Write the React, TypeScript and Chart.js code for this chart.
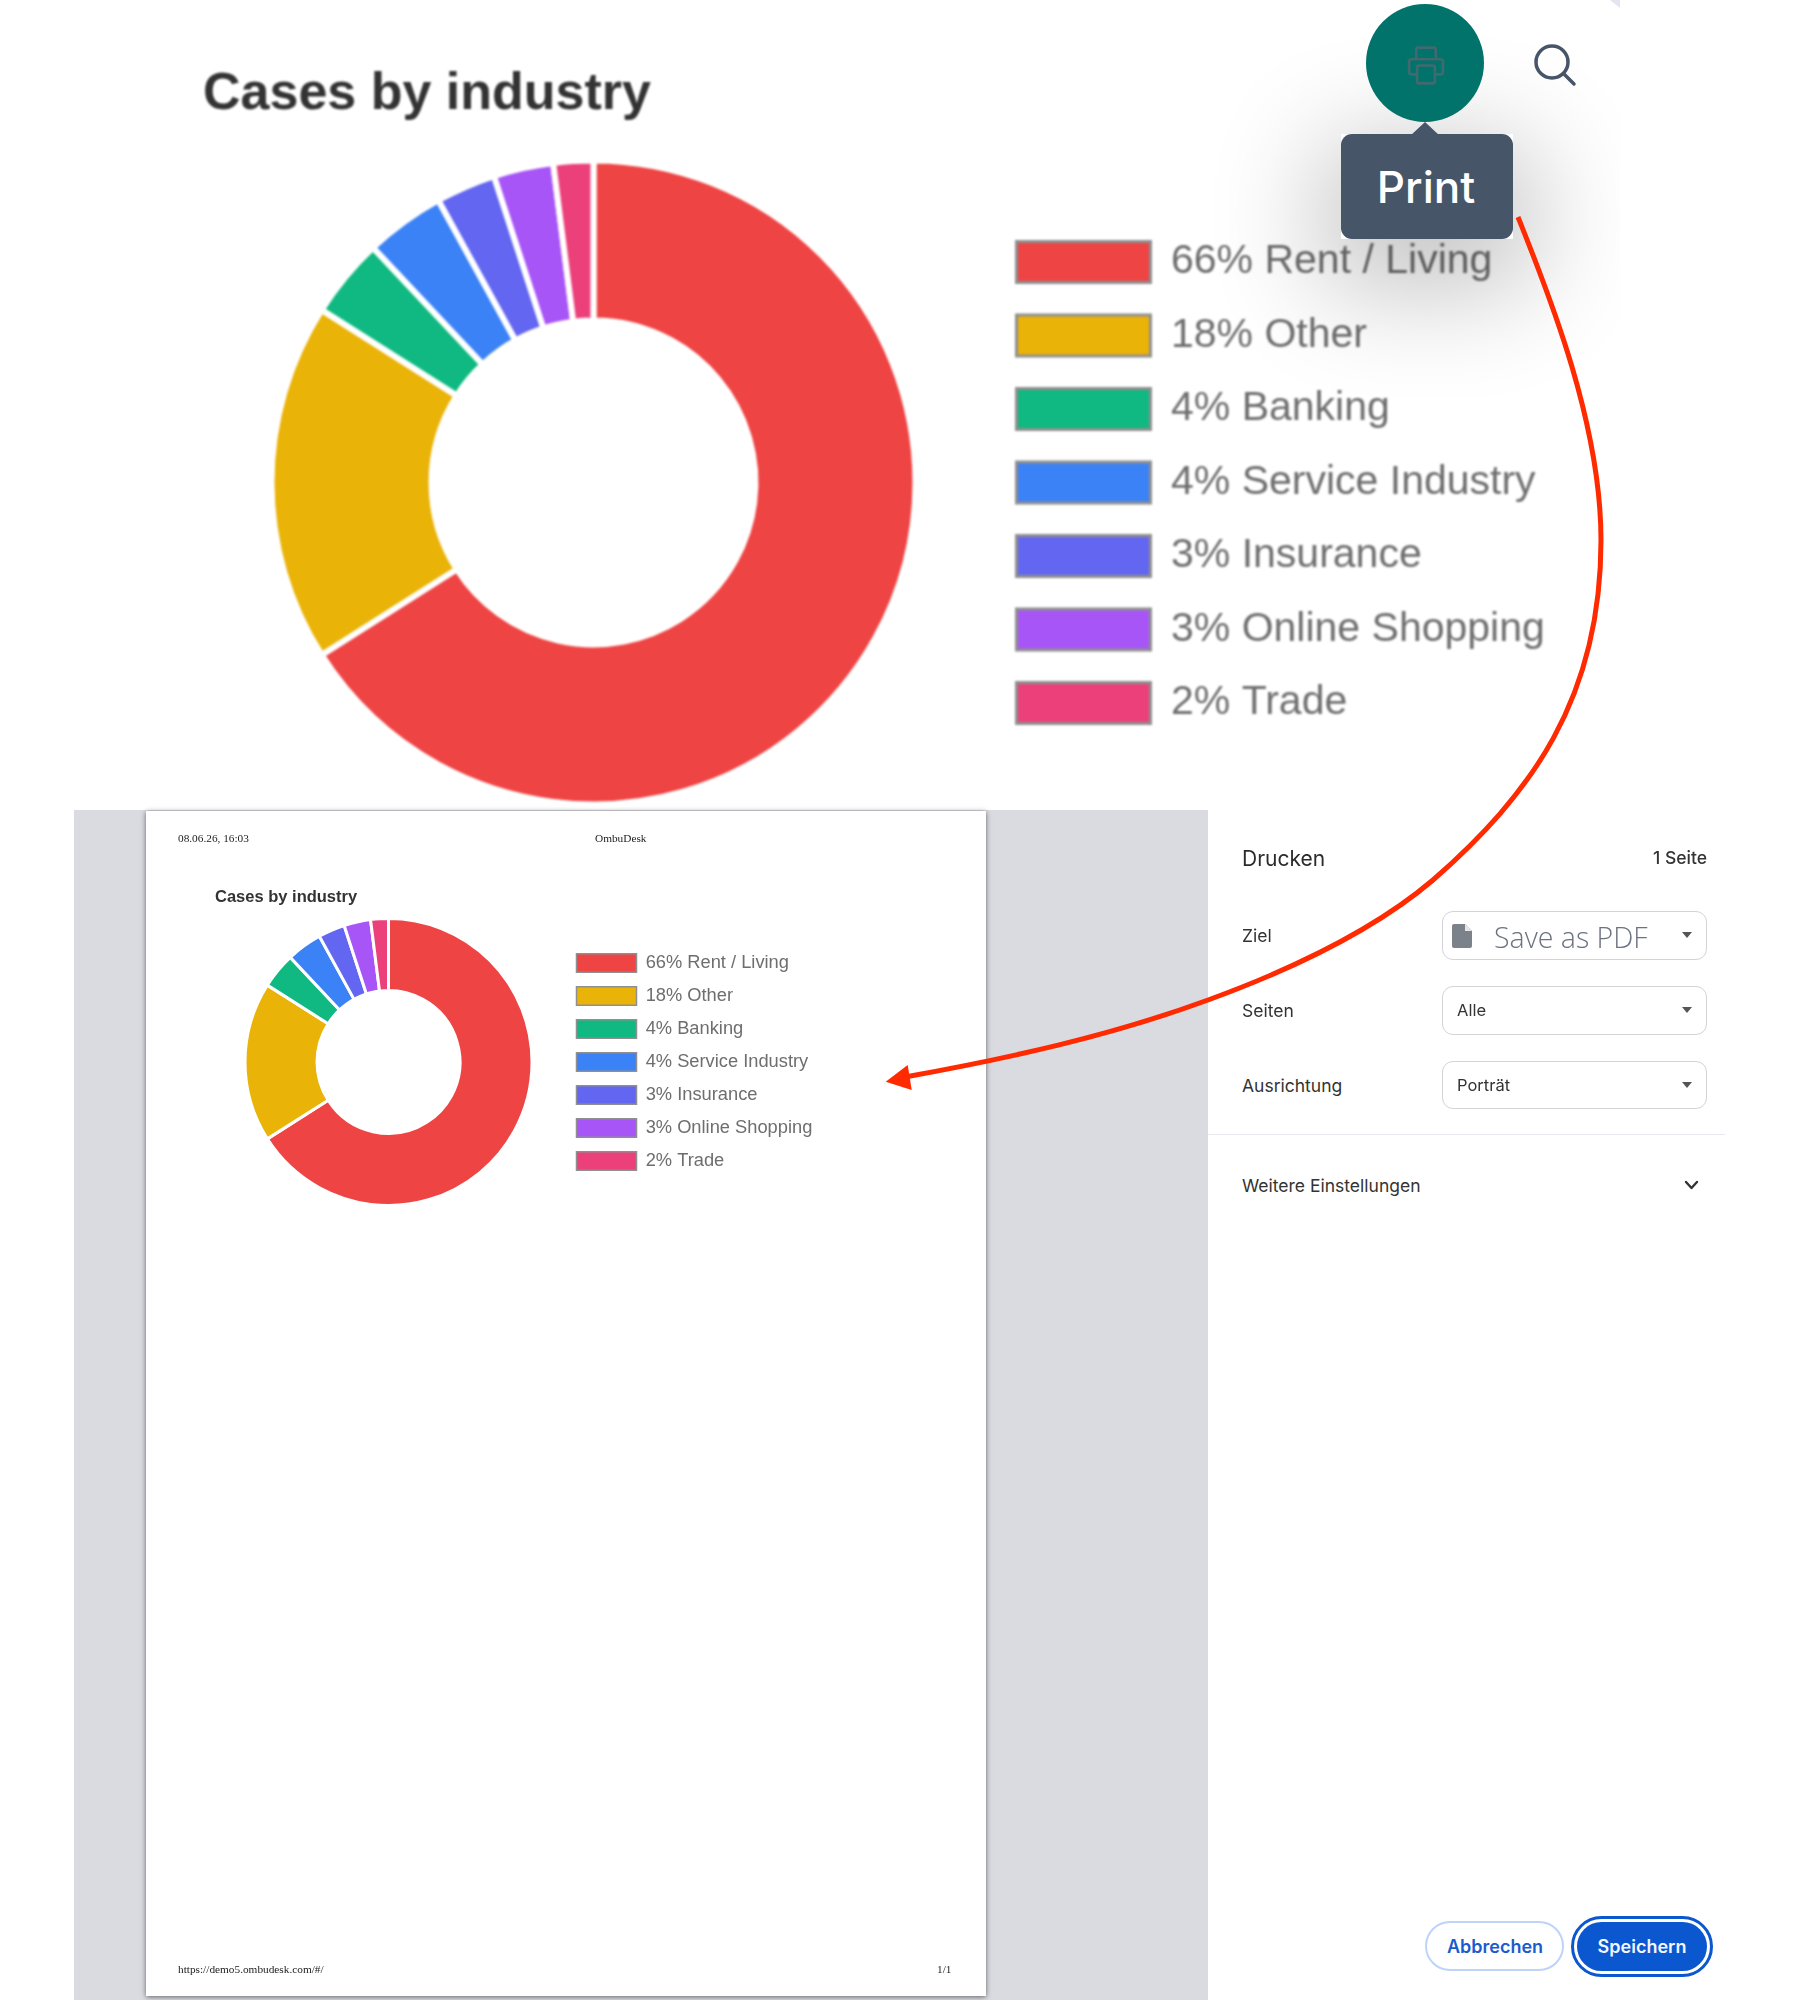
import React, { useEffect, useRef } from "react";
import { Chart, registerables } from "chart.js";

Chart.register(...registerables);

const categories = ["Rent / Living", "Other", "Banking", "Service Industry", "Insurance", "Online Shopping", "Trade"];
const shares = [66, 18, 4, 4, 3, 3, 2];
const colors = ["#ef4444", "#eab308", "#10b981", "#3b82f6", "#6366f1", "#a855f7", "#ec407a"];
const chartTitle = "Cases by industry";

const SANS = '"Liberation Sans", Arial, sans-serif';
const UI = 'Inter, "Liberation Sans", sans-serif';
const SERIF = '"Liberation Serif", serif';

type DoughnutProps = {
  left: number; top: number; width: number; height: number;
  titleSize: number; titleTop: number; titleBottom: number; paddingBottom: number;
  legendSize: number; boxW: number; boxH: number; legendPad: number; legendStroke: number; legendMax: number;
  border: number; blur: number; cutout: string;
};

function Doughnut(p: DoughnutProps) {
  const ref = useRef<HTMLCanvasElement>(null);
  useEffect(() => {
    if (!ref.current) return;
    const chart = new Chart(ref.current, {
      type: "doughnut",
      data: {
        labels: categories,
        datasets: [{ data: shares, backgroundColor: colors, borderColor: "#ffffff", borderWidth: p.border }],
      },
      options: {
        responsive: false,
        animation: false,
        cutout: p.cutout,
        layout: { padding: { left: 0, right: 10, top: 0, bottom: p.paddingBottom } },
        plugins: {
          tooltip: { enabled: false },
          title: {
            display: true,
            text: chartTitle,
            align: "start",
            color: "#333333",
            font: { family: SANS, size: p.titleSize, weight: "bold", lineHeight: 1.2 },
            padding: { top: p.titleTop, bottom: p.titleBottom },
          },
          legend: {
            display: true,
            position: "right",
            fullSize: false,
            maxWidth: p.legendMax,
            labels: {
              boxWidth: p.boxW,
              boxHeight: p.boxH,
              padding: p.legendPad,
              color: "#6e6e6e",
              font: { family: SANS, size: p.legendSize, lineHeight: 1 },
              generateLabels: () =>
                categories.map((c, i) => ({
                  text: `${shares[i]}% ${c}`,
                  fillStyle: colors[i],
                  strokeStyle: "#8f8f8f",
                  fontColor: "#6e6e6e",
                  lineWidth: p.legendStroke,
                  hidden: false,
                  index: i,
                })),
            },
          },
        },
      },
    });
    return () => chart.destroy();
  }, []);
  return (
    <canvas
      ref={ref}
      width={p.width}
      height={p.height}
      style={{ position: "absolute", left: p.left, top: p.top, width: p.width, height: p.height, filter: `blur(${p.blur}px)` }}
    />
  );
}

function T(props: { x: number; y: number; s: number; c?: string; w?: number; f?: string; right?: boolean; center?: boolean; children: React.ReactNode; blur?: number }) {
  const { x, y, s, c = "#333", w = 400, f = UI, right, center, children, blur } = props;
  const tx = right ? "translate(-100%,-50%)" : center ? "translate(-50%,-50%)" : "translateY(-50%)";
  return (
    <div style={{ position: "absolute", left: x, top: y, fontSize: s, color: c, fontWeight: w, fontFamily: f, whiteSpace: "nowrap", lineHeight: 1, transform: tx, filter: blur ? `blur(${blur}px)` : undefined }}>
      {children}
    </div>
  );
}

function Select(props: { top: number; height: number; children?: React.ReactNode }) {
  return (
    <>
      <div style={{ position: "absolute", left: 1442, top: props.top, width: 265, height: props.height, boxSizing: "border-box", border: "1.5px solid #d3d3d8", borderRadius: 11, background: "transparent" }} />
      <svg style={{ position: "absolute", left: 1682, top: props.top + 21 }} width="10" height="7">
        <polygon points="0,0 10,0 5,6" fill="#555" />
      </svg>
      {props.children}
    </>
  );
}

export default function App() {
  return (
    <div style={{ position: "absolute", left: 0, top: 0, width: 1800, height: 2000, overflow: "hidden", background: "#fff", fontFamily: SANS }}>
      {/* print preview backdrop */}
      <div style={{ position: "absolute", left: 74, top: 810, width: 1134, height: 1190, background: "#dadbe0" }} />
      <div style={{ position: "absolute", left: 146, top: 811, width: 840, height: 1185, background: "#fff", boxShadow: "0 1px 5px rgba(0,0,0,0.55)" }} />

      {/* large dashboard chart */}
      <Doughnut left={203} top={0} width={1356} height={964}
        titleSize={52} titleTop={63} titleBottom={32} paddingBottom={156.6}
        legendSize={41} boxW={134} boxH={41} legendPad={32.5} legendStroke={3} legendMax={565}
        border={6} blur={1} cutout="50.3%" />

      {/* chart on the previewed page */}
      <Doughnut left={215} top={860} width={610} height={404}
        titleSize={16.5} titleTop={27.3} titleBottom={9.9} paddingBottom={57}
        legendSize={18.3} boxW={60} boxH={18.5} legendPad={14.5} legendStroke={1.5} legendMax={253}
        border={3} blur={0.6} cutout="49.8%" />

      {/* page header and footer */}
      <T x={178} y={839} s={11.3} f={SERIF} c="#222" blur={0.3}>08.06.26, 16:03</T>
      <T x={595} y={839} s={11.3} f={SERIF} c="#222" blur={0.3}>OmbuDesk</T>
      <T x={178} y={1970} s={11.3} f={SERIF} c="#222" blur={0.3}>https://demo5.ombudesk.com/#/</T>
      <T x={937} y={1970} s={11.3} f={SERIF} c="#222" blur={0.3}>1/1</T>

      {/* hover shadow, clipped like the cropped screenshot */}
      <div style={{ position: "absolute", left: 1000, top: 0, width: 620, height: 810, overflow: "hidden" }}>
        <div style={{ position: "absolute", left: 341, top: 134, width: 172, height: 105, boxShadow: "0 30px 110px 20px rgba(0,0,0,0.24)" }} />
      </div>
      <svg style={{ position: "absolute", left: 1600, top: 0 }} width="30" height="14">
        <polygon points="10,0 20,0 20,8" fill="#e3e6ef" />
      </svg>

      {/* print button with tooltip */}
      <div style={{ position: "absolute", left: 1366, top: 4, width: 118, height: 118, borderRadius: "50%", background: "#01736b" }} />
      <svg style={{ position: "absolute", left: 1406, top: 45 }} width="40" height="41" viewBox="0 0 42 46" fill="none" stroke="#3f6b70" strokeWidth="3" strokeLinejoin="round">
        <path d="M10 16V5a2 2 0 0 1 2-2h18a2 2 0 0 1 2 2v11" />
        <path d="M10 33H5a3 3 0 0 1-3-3V19a3 3 0 0 1 3-3h32a3 3 0 0 1 3 3v11a3 3 0 0 1-3 3h-5" />
        <rect x="11" y="23" width="20" height="20" rx="2" />
      </svg>
      <svg style={{ position: "absolute", left: 1532, top: 42 }} width="46" height="46" viewBox="0 0 46 46" fill="none" stroke="#475569" strokeWidth="3.5" strokeLinecap="round">
        <circle cx="20" cy="20" r="16" />
        <path d="M32 32L42 42" />
      </svg>
      <svg style={{ position: "absolute", left: 1410, top: 122 }} width="30" height="14">
        <polygon points="15,0 30,14 0,14" fill="#475569" />
      </svg>
      <div style={{ position: "absolute", left: 1341, top: 134, width: 172, height: 105, borderRadius: 11, background: "#475569" }} />
      <T x={1426} y={187} s={44} c="#fff" w={500} center>Print</T>

      {/* print dialog settings */}
      <T x={1242} y={858} s={21} c="#2b2b2b">Drucken</T>
      <T x={1707} y={858} s={17.5} c="#333" w={500} right>1 Seite</T>
      <T x={1242} y={936} s={17.5}>Ziel</T>
      <T x={1242} y={1011} s={17.5}>Seiten</T>
      <T x={1242} y={1086} s={17.5}>Ausrichtung</T>
      <Select top={911} height={49}>
        <svg style={{ position: "absolute", left: 1452, top: 924 }} width="20" height="24" viewBox="0 0 20 24">
          <path d="M2 0h11l7 7v15a2 2 0 0 1-2 2H2a2 2 0 0 1-2-2V2a2 2 0 0 1 2-2z" fill="#7c828a" />
          <path d="M13 0v7h7z" fill="#e6e7ea" />
        </svg>
        <T x={1494} y={937} s={28.5} c="#6b7280" w={300} f='"Open Sans", sans-serif'>Save as PDF</T>
      </Select>
      <Select top={986} height={49}>
        <T x={1457} y={1010} s={16.5}>Alle</T>
      </Select>
      <Select top={1061} height={48}>
        <T x={1457} y={1085} s={16.5}>Porträt</T>
      </Select>
      <div style={{ position: "absolute", left: 1208, top: 1134, width: 517, height: 1, background: "#e8e8ee" }} />
      <T x={1242} y={1186} s={17.5}>Weitere Einstellungen</T>
      <svg style={{ position: "absolute", left: 1684, top: 1180 }} width="15" height="11" fill="none" stroke="#333" strokeWidth="2.4" strokeLinecap="round" strokeLinejoin="round">
        <path d="M2 2l5.5 6L13 2" />
      </svg>

      {/* dialog buttons */}
      <div style={{ position: "absolute", left: 1425, top: 1921, width: 139, height: 50, boxSizing: "border-box", border: "2px solid #bdd3f8", borderRadius: 25 }} />
      <T x={1495} y={1947} s={18} w={600} c="#1a5bcf" center>Abbrechen</T>
      <div style={{ position: "absolute", left: 1571, top: 1916, width: 142, height: 61, boxSizing: "border-box", border: "3px solid #0b57d0", borderRadius: 31, padding: 3 }}>
        <div style={{ width: "100%", height: "100%", borderRadius: 25, background: "#0b57d0" }} />
      </div>
      <T x={1642} y={1947} s={18} w={600} c="#f2f6fe" center>Speichern</T>

      {/* red annotation arrow */}
      <svg style={{ position: "absolute", left: 0, top: 0 }} width="1800" height="2000" fill="none">
        <path d="M1518 217C1545 285 1601 420 1601 540C1601 700 1530 795 1433 880C1372 932 1290 970 1208 1000C1110 1036 1010 1058 905 1077" stroke="#ff2a00" strokeWidth="5" />
        <polygon points="885.7,1081.7 907.7,1065 911.7,1090" fill="#ff2a00" />
      </svg>
    </div>
  );
}
